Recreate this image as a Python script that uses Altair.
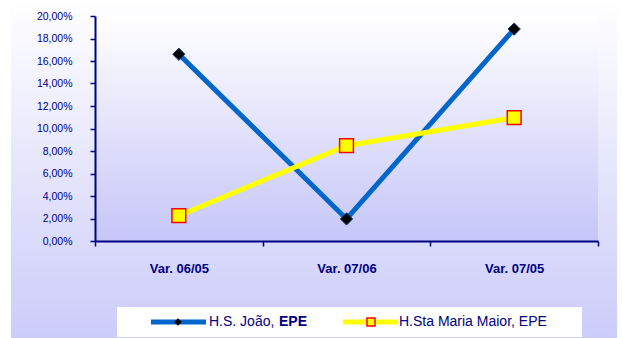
import altair as alt
import pandas as pd

categories = ["Var. 06/05", "Var. 07/06", "Var. 07/05"]
series = ["H.S. João, EPE", "H.Sta Maria Maior, EPE"]
joao = [0.166, 0.0196, 0.1884]
maria = [0.0225, 0.0847, 0.1096]
y_ticks = [0.0, 0.02, 0.04, 0.06, 0.08, 0.10, 0.12, 0.14, 0.16, 0.18, 0.20]

rows = []
for c, v in zip(categories, joao):
    rows.append({"cat": c, "series": series[0], "value": v})
for c, v in zip(categories, maria):
    rows.append({"cat": c, "series": series[1], "value": v})
df = pd.DataFrame(rows)

NAVY = "#000080"
FONT = "Liberation Sans"
W, H = 503, 225


def grad(c0, c1):
    return alt.LinearGradient(
        gradient="linear",
        stops=[alt.GradientStop(color=c0, offset=0), alt.GradientStop(color=c1, offset=1)],
        x1=0, x2=0, y1=0, y2=1,
    )


one = alt.Data(values=[{}])

outer_bg = alt.Chart(one).mark_rect(fill=grad("#ffffff", "#ccccfa")).encode(
    x=alt.value(-84), x2=alt.value(522), y=alt.value(-16), y2=alt.value(322)
)
plot_bg = alt.Chart(one).mark_rect(fill=grad("#ffffff", "#c6c6f8")).encode(
    x=alt.value(0), x2=alt.value(W), y=alt.value(-1), y2=alt.value(H)
)

x_enc = alt.X(
    "cat:N",
    sort=categories,
    bandPosition=0.5,
    scale=alt.Scale(type="band", domain=categories, paddingInner=0, paddingOuter=0),
    axis=alt.Axis(
        title=None, tickBand="extent", labelAngle=0, labelFontWeight="bold",
        labelFontSize=13, labelPadding=16, tickSize=5, labelColor=NAVY,
        domainColor=NAVY, tickColor=NAVY, domainWidth=2, tickWidth=1.5,
        labelFont=FONT, grid=False, zindex=1,
    ),
)
y_enc = alt.Y(
    "value:Q",
    scale=alt.Scale(domain=[0, 0.2], nice=False, zero=True),
    axis=alt.Axis(
        title=None, values=y_ticks, tickSize=5, labelPadding=18,
        labelExpr="replace(format(datum.value*100, '.2f'), '.', ',') + '%'",
        labelFontSize=10.5, labelColor=NAVY, domainColor=NAVY, tickColor=NAVY,
        domainWidth=2, tickWidth=1.5, labelFont=FONT, grid=False, zindex=1,
    ),
)

base = alt.Chart(df)

lines = base.mark_line(strokeWidth=5).encode(
    x=x_enc, y=y_enc,
    color=alt.Color("series:N", scale=alt.Scale(domain=series, range=["#0066cc", "#ffff00"]), legend=None),
    order=alt.Order("cat_order:Q"),
).transform_calculate(
    cat_order="indexof(%s, datum.cat)" % str(categories)
)

pts_j = base.transform_filter(alt.datum.series == series[0]).mark_point(
    shape="diamond", filled=True, fill="black", stroke="#0a3a7a", strokeWidth=1,
    size=150, opacity=1
).encode(x=x_enc, y=y_enc)

pts_m = base.transform_filter(alt.datum.series == series[1]).mark_point(
    shape="square", filled=True, fill="#ffff00", stroke="#ff0000", strokeWidth=1.5,
    size=190, opacity=1
).encode(x=x_enc, y=y_enc)

# legend
LY = 306
leg_box = alt.Chart(one).mark_rect(fill="white").encode(
    x=alt.value(22), x2=alt.value(487), y=alt.value(291), y2=alt.value(321)
)
leg_line1 = alt.Chart(one).mark_rule(color="#0066cc", strokeWidth=5).encode(
    x=alt.value(56), x2=alt.value(111), y=alt.value(LY)
)
leg_pt1 = alt.Chart(one).mark_point(shape="diamond", filled=True, fill="black", size=60, opacity=1).encode(
    x=alt.value(83), y=alt.value(LY)
)
leg_line2 = alt.Chart(one).mark_rule(color="#ffff00", strokeWidth=5).encode(
    x=alt.value(248), x2=alt.value(303), y=alt.value(LY)
)
leg_pt2 = alt.Chart(one).mark_point(shape="square", filled=True, fill="#ffff00", stroke="#ff0000",
                                    strokeWidth=1.5, size=64, opacity=1).encode(
    x=alt.value(276), y=alt.value(LY)
)
txt_kw = dict(font=FONT, fontSize=14, color=NAVY, align="left", baseline="middle")
leg_t1a = alt.Chart(one).mark_text(**txt_kw).encode(
    x=alt.value(114), y=alt.value(LY), text=alt.value("H.S. João, ")
)
leg_t1b = alt.Chart(one).mark_text(fontWeight="bold", **txt_kw).encode(
    x=alt.value(184), y=alt.value(LY), text=alt.value("EPE")
)
leg_t2 = alt.Chart(one).mark_text(**txt_kw).encode(
    x=alt.value(304), y=alt.value(LY), text=alt.value(series[1])
)

chart = alt.layer(
    outer_bg, plot_bg, lines, pts_j, pts_m,
    leg_box, leg_line1, leg_pt1, leg_line2, leg_pt2, leg_t1a, leg_t1b, leg_t2,
).properties(
    width=W, height=H,
    autosize=alt.AutoSizeParams(type="none"),
    padding={"left": 95, "top": 16, "right": 24, "bottom": 97},
    background="white",
).configure_view(stroke=None)

chart.save("out.html", embed_options={"renderer": "svg", "actions": False})
